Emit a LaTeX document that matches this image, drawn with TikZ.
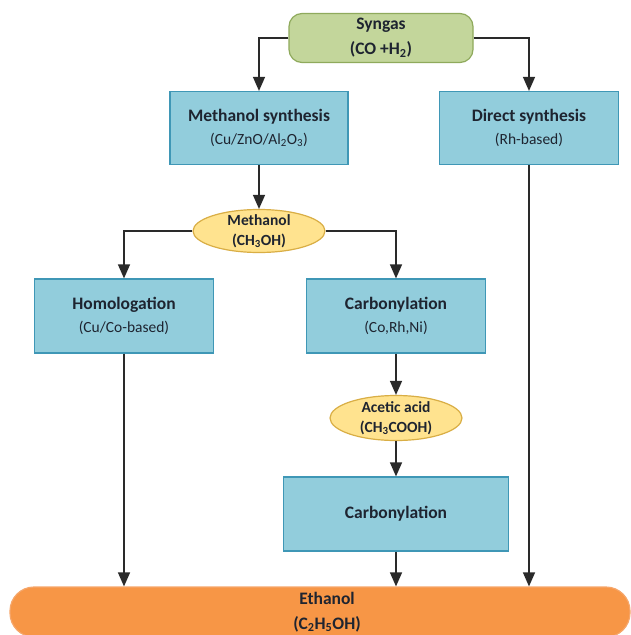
\documentclass[tikz,border=0pt]{standalone}
\usepackage{fontspec}
\setmainfont{Carlito}
\usetikzlibrary{arrows.meta,shapes.geometric,calc}
\definecolor{synfill}{HTML}{C3D69B}
\definecolor{synline}{HTML}{8FAA5C}
\definecolor{bluefill}{HTML}{92CDDC}
\definecolor{blueline}{HTML}{3F97B6}
\definecolor{yelfill}{HTML}{FFE38F}
\definecolor{yelline}{HTML}{D9AE45}
\definecolor{orfill}{HTML}{F79646}
\definecolor{orline}{HTML}{F6A66A}
\definecolor{txt}{HTML}{1E2430}
\definecolor{lin}{HTML}{2A2A2A}
\newcommand{\ttlf}{\bfseries\fontsize{17.5}{23}\selectfont}
\newcommand{\subf}{\mdseries\fontsize{15.5}{23}\selectfont}
\newcommand{\ellf}{\bfseries\fontsize{15.5}{20}\selectfont}
\newcommand{\synf}{\bfseries\fontsize{17.5}{25}\selectfont}
\tikzset{
  basebox/.style={draw, line width=1.2pt, align=center, text=txt, inner sep=2pt},
  procbox/.style={basebox, fill=bluefill, draw=blueline, minimum width=179pt, minimum height=74pt, font=\ttlf},
  prodell/.style={draw, line width=1.2pt, ellipse, fill=yelfill, draw=yelline, minimum width=132pt, minimum height=43pt, inner sep=0pt},
  elltext/.style={align=center, text=txt, font=\ellf, inner sep=0pt},
  synbox/.style={basebox, fill=synfill, draw=synline, rounded corners=13pt, minimum width=184pt, minimum height=49pt, font=\synf},
  ethbox/.style={basebox, fill=orfill, draw=orline, rounded corners=24pt, minimum width=620pt, minimum height=50pt},
  ethtext/.style={align=center, text=txt, font=\synf, inner sep=0pt},
  arr/.style={draw=lin, line width=1.3pt, -{Triangle[width=12pt,length=14pt]}}
}
\begin{document}
\begin{tikzpicture}[x=1pt,y=-1pt]
\useasboundingbox (0,0) rectangle (631,635);
\clip (0,0) rectangle (631,635);
\fill[white] (0,0) rectangle (631,635);

\node[synbox] (syn) at (381,38) {Syngas\\(CO +H\textsubscript{2})};
\node[procbox, minimum width=178pt, minimum height=73pt] (ms) at (259,128) {Methanol synthesis\\\subf (Cu/ZnO/Al\textsubscript{2}O\textsubscript{3})};
\node[procbox, minimum height=73pt] (ds) at (529,128) {Direct synthesis\\\subf (Rh-based)};
\node[prodell] (meth) at (259,231) {};
\node[elltext] (methtxt) at (meth.center) {Methanol\\(CH\textsubscript{3}OH)};
\node[procbox] (hom) at (124,316) {Homologation\\\subf (Cu/Co-based)};
\node[procbox] (carb1) at (396,316) {Carbonylation\\\subf (Co,Rh,Ni)};
\node[prodell, minimum height=45pt] (aa) at (396,418) {};
\node[elltext] (aatxt) at (aa.center) {Acetic acid\\(CH\textsubscript{3}COOH)};
\node[procbox, minimum width=225pt] (carb2) at (396,514) {Carbonylation};
\node[ethbox] (eth) at (320,612) {};
\node[ethtext] (ethtxt) at (327,612) {Ethanol\\(C\textsubscript{2}H\textsubscript{5}OH)};

\draw[arr] (syn.west) -| (ms.north);
\draw[arr] (syn.east) -| (ds.north);
\draw[arr] (ms.south) -- (meth.north);
\draw[arr] (meth.west) -| (hom.north);
\draw[arr] (meth.east) -| (carb1.north);
\draw[arr] (carb1.south) -- (aa.north);
\draw[arr] (aa.south) -- (carb2.north);
\draw[arr] (hom.south) -- (hom.south |- eth.north);
\draw[arr] (carb2.south) -- (carb2.south |- eth.north);
\draw[arr] (ds.south) -- (ds.south |- eth.north);
\end{tikzpicture}
\end{document}
